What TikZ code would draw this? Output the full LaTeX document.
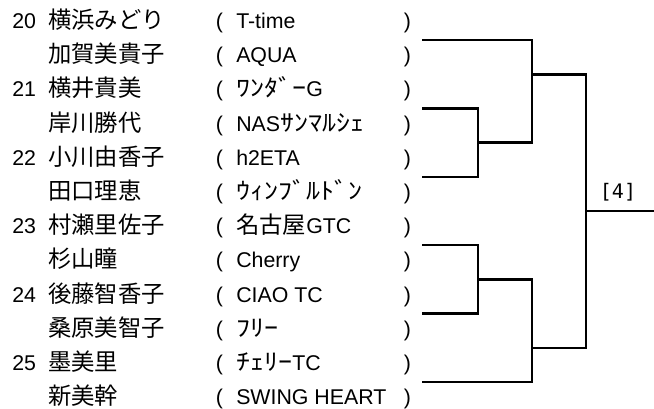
\documentclass[tikz,border=0pt]{standalone}
\usepackage{fontspec}
\setmainfont{Liberation Sans}
\newfontfamily\jp{Noto Sans CJK JP}
\newfontfamily\hk[FakeStretch=1.2]{Noto Sans CJK JP}
\newfontfamily\monofam{DejaVu Sans Mono}
\newcommand{\kana}[1]{{\hk\fontsize{17.5}{17.5}\selectfont #1}}
\newcommand{\kanji}[1]{{\jp\fontsize{17.5}{17.5}\selectfont #1}}
\begin{document}
\begin{tikzpicture}[x=0.75pt,y=-0.75pt,
  txt/.style={anchor=base west, inner sep=0pt, font=\fontsize{16}{16}\selectfont},
  jpt/.style={anchor=base west, inner sep=0pt, font=\jp\fontsize{17.5}{17.5}\selectfont},
  br/.style={line width=1.7pt, line join=miter}]
\useasboundingbox (0,0) rectangle (654,409);
% row baselines: 28.5 + (k-1)*34.2
\node[txt] (num1) at (12,28.5) {20};
\node[txt] (num3) at (12,96.9) {21};
\node[txt] (num5) at (12,165.3) {22};
\node[txt] (num7) at (12,233.7) {23};
\node[txt] (num9) at (12,302.1) {24};
\node[txt] (num11) at (12,370.5) {25};

\node[jpt] (nm1) at (48,28.5) {横浜みどり};
\node[jpt] (nm2) at (48,62.7) {加賀美貴子};
\node[jpt] (nm3) at (48,96.9) {横井貴美};
\node[jpt] (nm4) at (48,131.1) {岸川勝代};
\node[jpt] (nm5) at (48,165.3) {小川由香子};
\node[jpt] (nm6) at (48,199.5) {田口理恵};
\node[jpt] (nm7) at (48,233.7) {村瀬里佐子};
\node[jpt] (nm8) at (48,267.9) {杉山瞳};
\node[jpt] (nm9) at (48,302.1) {後藤智香子};
\node[jpt] (nm10) at (48,336.3) {桑原美智子};
\node[jpt] (nm11) at (48,370.5) {墨美里};
\node[jpt] (nm12) at (48,404.7) {新美幹};

\foreach \k/\yy in {1/28.5,2/62.7,3/96.9,4/131.1,5/165.3,6/199.5,7/233.7,8/267.9,9/302.1,10/336.3,11/370.5,12/404.7}{
  \node[txt] (lp\k) at (215.5,\yy) {(};
  \node[txt] (rp\k) at (403.5,\yy) {)};
}

\node[txt] (tm1) at (236,28.5) {T-time};
\node[txt] (tm2) at (236,62.7) {AQUA};
\node[txt] (tm3) at (236,96.9) {\kana{ﾜﾝﾀﾞｰ}G};
\node[txt] (tm4) at (236,131.1) {NAS\kana{ｻﾝﾏﾙｼｪ}};
\node[txt] (tm5) at (236,165.3) {h2ETA};
\node[txt] (tm6) at (236,199.5) {\kana{ｳｨﾝﾌﾞﾙﾄﾞﾝ}};
\node[txt] (tm7) at (236,233.7) {\kanji{名古屋}GTC};
\node[txt] (tm8) at (236,267.9) {Cherry};
\node[txt] (tm9) at (236,302.1) {CIAO TC};
\node[txt] (tm10) at (236,336.3) {\kana{ﾌﾘｰ}};
\node[txt] (tm11) at (236,370.5) {\kana{ﾁｪﾘｰ}TC};
\node[txt] (tm12) at (236,404.7) {SWING HEART};

% bracket
\coordinate (a1) at (422,40);
\coordinate (a2) at (422,108.4);
\coordinate (a3) at (422,176.8);
\coordinate (a4) at (422,245.2);
\coordinate (a5) at (422,313.6);
\coordinate (a6) at (422,382);
\coordinate (b23) at (478,142.6);
\coordinate (b45) at (478,279.4);
\coordinate (c1) at (532,74.6);
\coordinate (c2) at (532,348);
\coordinate (d) at (586,211.3);
\coordinate (e) at (654,211.3);

\draw[br] (a2) -| (b23) |- (a3);
\draw[br] (a1) -| (c1) |- (b23);
\draw[br] (a4) -| (b45) |- (a5);
\draw[br] (b45) -| (c2) |- (a6);
\draw[br] (c1) -| (d) |- (c2);
\draw[br] (d) -- (e);

\node[inner sep=0pt, font=\monofam\fontsize{15}{15}\selectfont] (res) at (618,192) {[4]};
\end{tikzpicture}
\end{document}
